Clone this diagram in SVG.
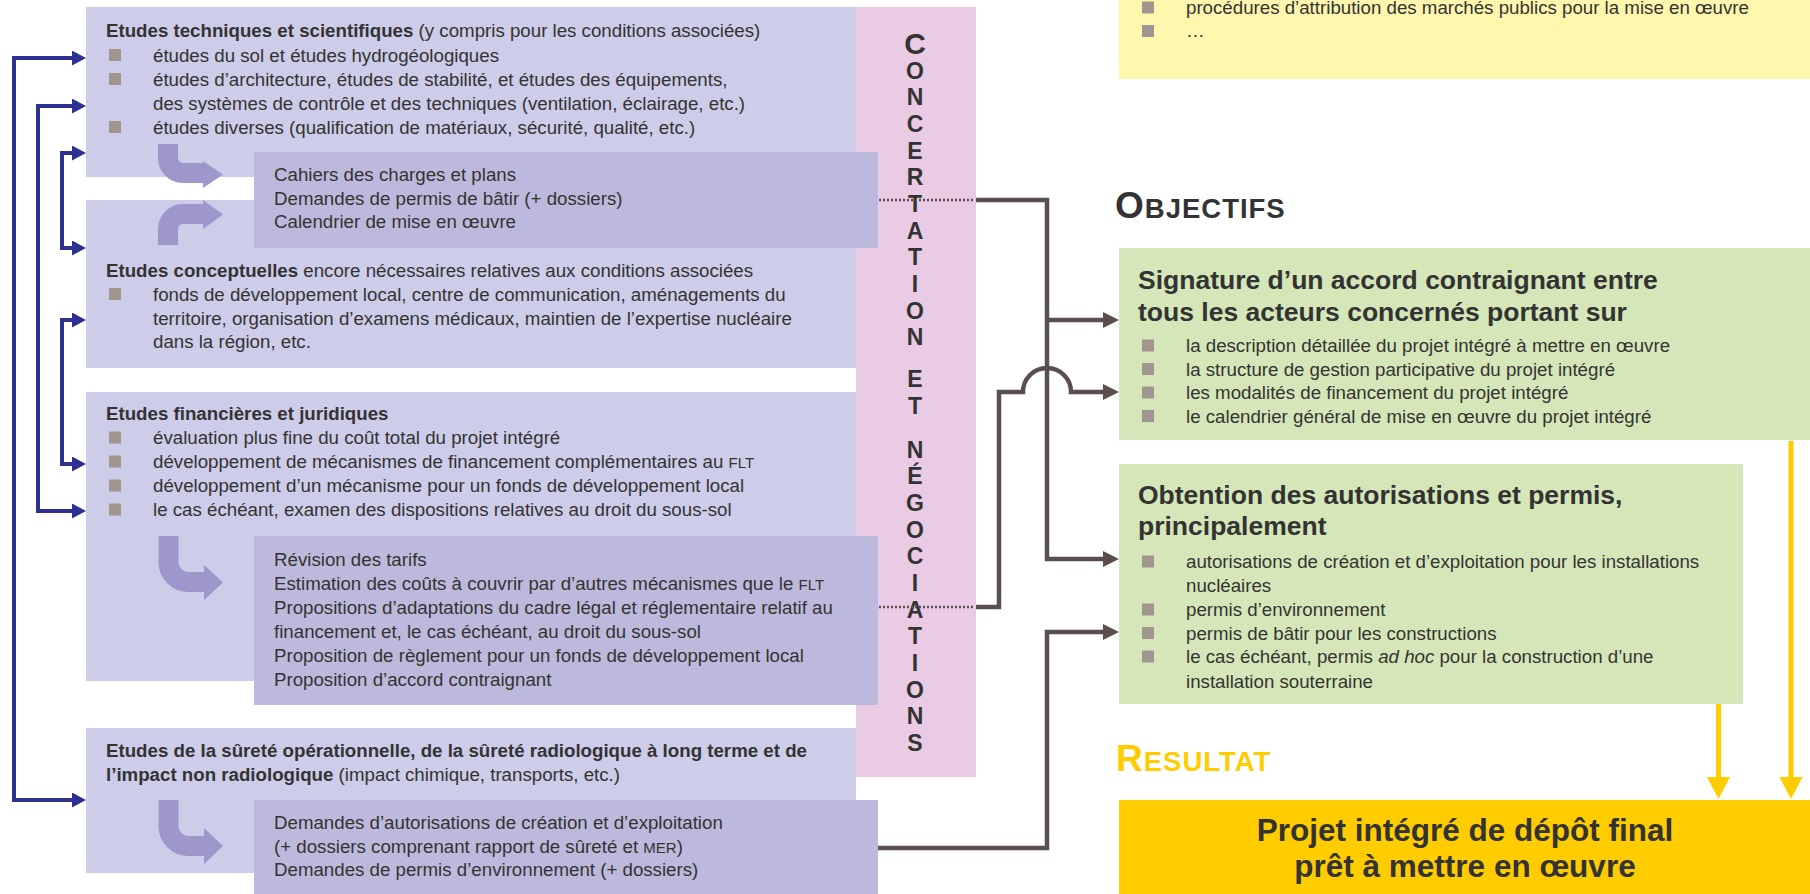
<svg xmlns="http://www.w3.org/2000/svg" xmlns:xlink="http://www.w3.org/1999/xlink" width="1810" height="894" viewBox="0 0 1810 894">
<style>
.t{font-family:"Liberation Sans",Arial,sans-serif;font-size:18.7px;fill:#333333}
.b{font-weight:bold}
.h{font-family:"Liberation Sans",Arial,sans-serif;font-size:26.5px;font-weight:bold;fill:#333333}
.sc{font-size:15px}
.blue{fill:#CDCCE9}
.sub{fill:#BDB9DC}
.green{fill:#D5E7B8}
.bend{fill:none;stroke:#9E97CC;stroke-width:20}
.bendh{fill:#9E97CC}
.nav{fill:none;stroke:#2E3192;stroke-width:4}
.gr{fill:none;stroke:#594F4F;stroke-width:4.5}
.dot{fill:none;stroke:#594F4F;stroke-width:2.5;stroke-dasharray:2 2}
.yl{fill:none;stroke:#FFCC00;stroke-width:5}
.letters{font-family:"Liberation Sans",Arial,sans-serif;font-size:23px;font-weight:bold;fill:#333333}
.head{font-family:"Liberation Sans",Arial,sans-serif;font-weight:bold;letter-spacing:1px}
</style>
<defs>
<rect id="sq" width="12" height="12" fill="#A1958F"/>
<marker id="mb" markerUnits="userSpaceOnUse" markerWidth="14" markerHeight="15" refX="0" refY="7.5" orient="auto-start-reverse"><path d="M0,0 L14,7.5 L0,15 z" fill="#2E3192"/></marker>
<marker id="mg" markerUnits="userSpaceOnUse" markerWidth="16" markerHeight="16" refX="0" refY="8" orient="auto"><path d="M0,0 L16,8 L0,16 z" fill="#594F4F"/></marker>
<marker id="my" markerUnits="userSpaceOnUse" markerWidth="22" markerHeight="23" refX="0" refY="11.5" orient="auto"><path d="M0,0 L22,11.5 L0,23 z" fill="#FFCC00"/></marker>
</defs>

<!-- main study boxes -->
<g id="box-techniques">
<rect class="blue" x="86" y="7" width="770" height="170"/>
</g>
<g id="box-conceptuelles">
<rect class="blue" x="86" y="200" width="770" height="168"/>
</g>
<g id="box-financieres">
<rect class="blue" x="86" y="392" width="770" height="289"/>
</g>
<g id="box-surete">
<rect class="blue" x="86" y="728" width="770" height="145"/>
</g>

<g id="concertation">
<rect x="856" y="7" width="120" height="770" fill="#E9CCE3"/>
<text class="letters" text-anchor="middle"><tspan x="915" y="53.5" font-size="30">C</tspan><tspan x="915" y="78.7">O</tspan><tspan x="915" y="105.3">N</tspan><tspan x="915" y="132">C</tspan><tspan x="915" y="158.7">E</tspan><tspan x="915" y="185.3">R</tspan><tspan x="915" y="212">T</tspan><tspan x="915" y="238.7">A</tspan><tspan x="915" y="265.3">T</tspan><tspan x="915" y="292">I</tspan><tspan x="915" y="318.7">O</tspan><tspan x="915" y="345.3">N</tspan><tspan x="915" y="366"> </tspan><tspan x="915" y="387.3">E</tspan><tspan x="915" y="414">T</tspan><tspan x="915" y="436"> </tspan><tspan x="915" y="457.7">N</tspan><tspan x="915" y="484.3">É</tspan><tspan x="915" y="511">G</tspan><tspan x="915" y="537.7">O</tspan><tspan x="915" y="564.3">C</tspan><tspan x="915" y="591">I</tspan><tspan x="915" y="617.7">A</tspan><tspan x="915" y="644.3">T</tspan><tspan x="915" y="671">I</tspan><tspan x="915" y="697.7">O</tspan><tspan x="915" y="724.3">N</tspan><tspan x="915" y="751">S</tspan></text>
</g>

<g id="sub-cahiers">
<rect class="sub" x="254" y="152" width="624" height="96"/>
<text class="t" x="274" y="181">Cahiers des charges et plans</text>
<text class="t" x="274" y="204.5">Demandes de permis de bâtir (+ dossiers)</text>
<text class="t" x="274" y="228">Calendrier de mise en œuvre</text>
</g>
<g id="sub-revision">
<rect class="sub" x="254" y="536" width="624" height="169"/>
<text class="t" x="274" y="566">Révision des tarifs</text>
<text class="t" x="274" y="590">Estimation des coûts à couvrir par d’autres mécanismes que le <tspan class="sc">FLT</tspan></text>
<text class="t" x="274" y="614">Propositions d’adaptations du cadre légal et réglementaire relatif au</text>
<text class="t" x="274" y="638">financement et, le cas échéant, au droit du sous-sol</text>
<text class="t" x="274" y="662">Proposition de règlement pour un fonds de développement local</text>
<text class="t" x="274" y="686">Proposition d’accord contraignant</text>
</g>
<g id="sub-demandes">
<rect class="sub" x="254" y="800" width="624" height="94"/>
<text class="t" x="274" y="828.5">Demandes d’autorisations de création et d’exploitation</text>
<text class="t" x="274" y="852.5">(+ dossiers comprenant rapport de sûreté et <tspan class="sc">MER</tspan>)</text>
<text class="t" x="274" y="876">Demandes de permis d’environnement (+ dossiers)</text>
</g>

<g id="text-techniques">
<text class="t" x="106" y="37"><tspan class="b">Etudes techniques et scientifiques</tspan> (y compris pour les conditions associées)</text>
<use xlink:href="#sq" x="109" y="49"/>
<text class="t" x="153" y="61.5">études du sol et études hydrogéologiques</text>
<use xlink:href="#sq" x="109" y="73"/>
<text class="t" x="153" y="85.5">études d’architecture, études de stabilité, et études des équipements,</text>
<text class="t" x="153" y="109.5">des systèmes de contrôle et des techniques (ventilation, éclairage, etc.)</text>
<use xlink:href="#sq" x="109" y="121"/>
<text class="t" x="153" y="133.5">études diverses (qualification de matériaux, sécurité, qualité, etc.)</text>
</g>
<g id="text-conceptuelles">
<text class="t" x="106" y="277"><tspan class="b">Etudes conceptuelles</tspan> encore nécessaires relatives aux conditions associées</text>
<use xlink:href="#sq" x="109" y="288"/>
<text class="t" x="153" y="300.5">fonds de développement local, centre de communication, aménagements du</text>
<text class="t" x="153" y="324.5">territoire, organisation d’examens médicaux, maintien de l’expertise nucléaire</text>
<text class="t" x="153" y="348">dans la région, etc.</text>
</g>
<g id="text-financieres">
<text class="t b" x="106" y="420">Etudes financières et juridiques</text>
<use xlink:href="#sq" x="109" y="431.5"/>
<text class="t" x="153" y="444">évaluation plus fine du coût total du projet intégré</text>
<use xlink:href="#sq" x="109" y="455.5"/>
<text class="t" x="153" y="468">développement de mécanismes de financement complémentaires au <tspan class="sc">FLT</tspan></text>
<use xlink:href="#sq" x="109" y="479.5"/>
<text class="t" x="153" y="492">développement d’un mécanisme pour un fonds de développement local</text>
<use xlink:href="#sq" x="109" y="503.5"/>
<text class="t" x="153" y="516">le cas échéant, examen des dispositions relatives au droit du sous-sol</text>
</g>
<g id="text-surete">
<text class="t b" x="106" y="757">Etudes de la sûreté opérationnelle, de la sûreté radiologique à long terme et de</text>
<text class="t" x="106" y="780.5"><tspan class="b">l’impact non radiologique</tspan> (impact chimique, transports, etc.)</text>
</g>

<g id="bend-arrows">
<path class="bend" d="M168,144 V158 A15,15 0 0 0 183,173 H204"/>
<polygon class="bendh" points="203,161 223,174.5 203,188"/>
<path class="bend" d="M168,245 V229 A15,15 0 0 1 183,214 H204"/>
<polygon class="bendh" points="203,200 223,214.5 203,229"/>
<path class="bend" d="M168.5,536 V562 A20,20 0 0 0 188.5,582 H205"/>
<polygon class="bendh" points="204,565 223,582.5 204,600"/>
<path class="bend" d="M168.5,800 V826 A20,20 0 0 0 188.5,846 H205"/>
<polygon class="bendh" points="204,828 223,846 204,864"/>
</g>

<g id="top-yellow">
<rect x="1119" y="-10" width="691" height="89" fill="#FFF7AD"/>
<use xlink:href="#sq" x="1142" y="1.5"/>
<text class="t" x="1186" y="14">procédures d’attribution des marchés publics pour la mise en œuvre</text>
<use xlink:href="#sq" x="1142" y="25"/>
<text class="t" x="1186" y="37">…</text>
</g>

<g id="heading-objectifs">
<text class="head" x="1115" y="218" fill="#333333"><tspan font-size="37">O</tspan><tspan font-size="27.5">BJECTIFS</tspan></text>
</g>

<g id="objectif-signature">
<rect class="green" x="1119" y="248" width="691" height="192"/>
<text class="h" x="1138" y="288.5">Signature d’un accord contraignant entre</text>
<text class="h" x="1138" y="321">tous les acteurs concernés portant sur</text>
<use xlink:href="#sq" x="1142" y="339.5"/>
<text class="t" x="1186" y="352">la description détaillée du projet intégré à mettre en œuvre</text>
<use xlink:href="#sq" x="1142" y="363"/>
<text class="t" x="1186" y="375.5">la structure de gestion participative du projet intégré</text>
<use xlink:href="#sq" x="1142" y="386.5"/>
<text class="t" x="1186" y="399">les modalités de financement du projet intégré</text>
<use xlink:href="#sq" x="1142" y="410"/>
<text class="t" x="1186" y="422.5">le calendrier général de mise en œuvre du projet intégré</text>
</g>

<g id="objectif-autorisations">
<rect class="green" x="1119" y="464" width="624" height="240"/>
<text class="h" x="1138" y="503.5">Obtention des autorisations et permis,</text>
<text class="h" x="1138" y="535">principalement</text>
<use xlink:href="#sq" x="1142" y="555.5"/>
<text class="t" x="1186" y="568">autorisations de création et d’exploitation pour les installations</text>
<text class="t" x="1186" y="592">nucléaires</text>
<use xlink:href="#sq" x="1142" y="603.5"/>
<text class="t" x="1186" y="616">permis d’environnement</text>
<use xlink:href="#sq" x="1142" y="627"/>
<text class="t" x="1186" y="639.5">permis de bâtir pour les constructions</text>
<use xlink:href="#sq" x="1142" y="650.5"/>
<text class="t" x="1186" y="663">le cas échéant, permis <tspan font-style="italic">ad hoc</tspan> pour la construction d’une</text>
<text class="t" x="1186" y="687.5">installation souterraine</text>
</g>

<g id="heading-resultat">
<text class="head" x="1116" y="771" fill="#FFCC00"><tspan font-size="37">R</tspan><tspan font-size="27.5">ESULTAT</tspan></text>
</g>

<g id="resultat">
<rect x="1119" y="800" width="691" height="94" fill="#FFCC00"/>
<text class="h" x="1465" y="840.5" text-anchor="middle" style="font-size:31.5px">Projet intégré de dépôt final</text>
<text class="h" x="1465" y="876.5" text-anchor="middle" style="font-size:31.5px">prêt à mettre en œuvre</text>
</g>

<g id="connectors">
<path class="nav" d="M72,58 H14 V800 H72" marker-start="url(#mb)" marker-end="url(#mb)"/>
<path class="nav" d="M72,106 H38 V511 H72" marker-start="url(#mb)" marker-end="url(#mb)"/>
<path class="nav" d="M72,153 H62 V248 H72" marker-start="url(#mb)" marker-end="url(#mb)"/>
<path class="nav" d="M72,320 H62 V464 H72" marker-start="url(#mb)" marker-end="url(#mb)"/>

<path class="dot" d="M879,200 H974"/>
<path class="gr" d="M976,200 H1047 V559 H1103" marker-end="url(#mg)"/>
<path class="gr" d="M1047,320 H1103" marker-end="url(#mg)"/>
<path class="dot" d="M879,607 H974"/>
<path class="gr" d="M976,607 H999 V392 H1023 A24,24 0 0 1 1071,392 H1103" marker-end="url(#mg)"/>
<path class="gr" d="M878,848 H1047 V632 H1103" marker-end="url(#mg)"/>

<path class="yl" d="M1791,441 V777" marker-end="url(#my)"/>
<path class="yl" d="M1718.5,704 V777" marker-end="url(#my)"/>
</g>
</svg>
